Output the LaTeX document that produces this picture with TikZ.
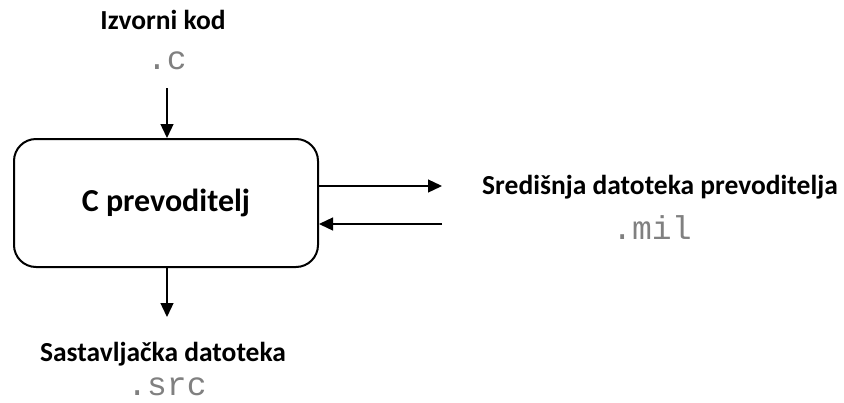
\documentclass[tikz,border=0pt]{standalone}
\usepackage{fontspec}
\setmainfont{Carlito}
\setmonofont{Liberation Mono}
\usetikzlibrary{arrows.meta}

\tikzset{
  title/.style={font=\fontsize{27.5}{30}\selectfont\bfseries, inner sep=0pt},
  ext/.style={font=\fontsize{33}{34}\selectfont\ttfamily, text=black!50, inner sep=0pt},
  arr/.style={line width=1.3pt, -{Triangle[length=14pt,width=13pt]}}
}

\begin{document}
\begin{tikzpicture}[x=1pt,y=-1pt]
  \useasboundingbox (0,0) rectangle (844,402);
  % compiler box
  \node[draw, line width=2pt, rounded corners=22pt, minimum width=304pt, minimum height=128pt,
        font=\fontsize{32}{34}\selectfont\bfseries] (comp) at (166,203) {C prevoditelj};
  % input
  \node[title] (srcname) at (163,20) {Izvorni kod};
  \node[ext] (srcext) at (167,61) {.c};
  \coordinate (intop) at (167,88);
  \draw[arr] (intop) -- (comp.north -| intop);
  % intermediate file
  \node[title] (midname) at (660,187) {Središnja datoteka prevoditelja};
  \node[ext] (midext) at (652,228) {.mil};
  \coordinate (outend) at (442,186);
  \coordinate (inend) at (442,224);
  \draw[arr] (comp.east |- outend) -- (outend);
  \draw[arr] (inend) -- (comp.east |- inend);
  % output
  \node[title] (asmname) at (163,354) {Sastavljačka datoteka};
  \node[ext] (asmext) at (167,387) {.src};
  \coordinate (outbot) at (167,317);
  \draw[arr] (comp.south -| outbot) -- (outbot);
\end{tikzpicture}
\end{document}
